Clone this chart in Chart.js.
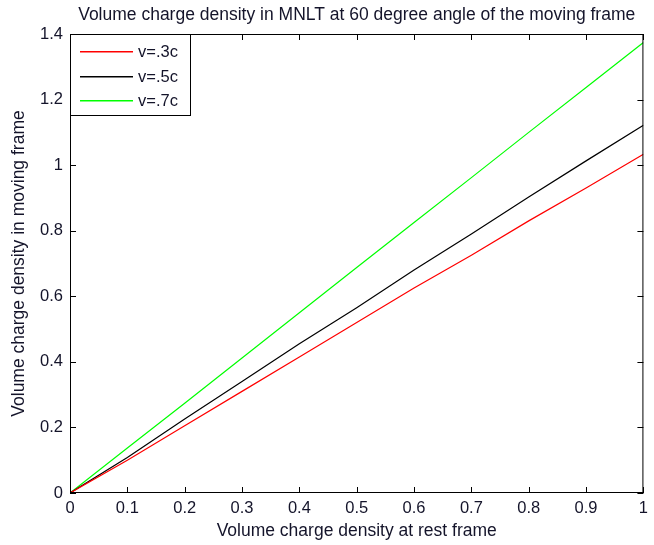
<!DOCTYPE html>
<html>
<head>
<meta charset="utf-8">
<script src="https://cdn.jsdelivr.net/npm/chart.js@4"></script>
<style>
  html, body { margin: 0; padding: 0; background: #fff; }
  #wrap { width: 654px; height: 545px; }
</style>
</head>
<body>
<div id="wrap"><canvas id="chart" width="654" height="545"></canvas></div>
<script>
// data
const restDensity = [0, 0.1, 0.2, 0.3, 0.4, 0.5, 0.6, 0.7, 0.8, 0.9, 1];
const v3c = [0, 0.100, 0.205, 0.310, 0.415, 0.520, 0.625, 0.725, 0.830, 0.930, 1.033];
const v5c = [0, 0.108, 0.226, 0.340, 0.455, 0.565, 0.680, 0.790, 0.903, 1.013, 1.122];
const v7c = [0, 0.137, 0.274, 0.412, 0.550, 0.688, 0.825, 0.962, 1.100, 1.237, 1.374];
const seriesNames = ['v=.3c', 'v=.5c', 'v=.7c'];
const seriesColors = ['#ff0000', '#000000', '#00ff00'];
const xTicks = ['0', '0.1', '0.2', '0.3', '0.4', '0.5', '0.6', '0.7', '0.8', '0.9', '1'];
const yTicks = ['0', '0.2', '0.4', '0.6', '0.8', '1', '1.2', '1.4'];

const chartTitle = 'Volume charge density in MNLT at 60 degree angle of the moving frame';
const FONT = '"Liberation Sans", Arial, sans-serif';
const TEXT = '#14142a';

function toPoints(ys) {
    return ys.map((y, i) => ({ x: restDensity[i], y: y }));
}

// box, inward ticks, title and legend, matlab style
const matlabFrame = {
    id: 'matlabFrame',
    afterDraw(chart) {
        const ctx = chart.ctx;
        const a = chart.chartArea;
        const xs = chart.scales.x;
        const ys = chart.scales.y;
        ctx.save();
        ctx.strokeStyle = '#000';
        ctx.lineWidth = 1;
        ctx.strokeRect(a.left + 0.5, a.top + 0.5, a.right - a.left - 1, a.bottom - a.top - 1);
        ctx.beginPath();
        xs.ticks.forEach(t => {
            const px = Math.round(xs.getPixelForValue(t.value)) + 0.5;
            ctx.moveTo(px, a.bottom); ctx.lineTo(px, a.bottom - 6);
            ctx.moveTo(px, a.top); ctx.lineTo(px, a.top + 6);
        });
        ys.ticks.forEach(t => {
            const py = Math.round(ys.getPixelForValue(t.value)) + 0.5;
            ctx.moveTo(a.left, py); ctx.lineTo(a.left + 6, py);
            ctx.moveTo(a.right, py); ctx.lineTo(a.right - 6, py);
        });
        ctx.stroke();

        // title
        ctx.fillStyle = TEXT;
        ctx.font = '17.5px ' + FONT;
        ctx.textAlign = 'center';
        ctx.textBaseline = 'middle';
        ctx.fillText(chartTitle, (a.left + a.right) / 2, 15);

        // legend box in the upper left corner
        const lx = a.left, ly = a.top, lw = 120, lh = 81;
        ctx.fillStyle = '#fff';
        ctx.fillRect(lx, ly, lw, lh);
        ctx.strokeStyle = '#000';
        ctx.strokeRect(lx + 0.5, ly + 0.5, lw, lh);
        ctx.font = '16.5px ' + FONT;
        chart.data.datasets.forEach((ds, i) => {
            const yy = Math.round(ly + 17 + i * 24.5);
            ctx.fillStyle = seriesColors[i];
            ctx.fillRect(lx + 10, yy, 53, 1.5);
            ctx.fillStyle = TEXT;
            ctx.textAlign = 'left';
            ctx.fillText(ds.label, lx + 68, yy + 1);
        });
        ctx.restore();
    }
};

new Chart(document.getElementById('chart'), {
    type: 'line',
    data: {
        datasets: [v3c, v5c, v7c].map((ys, i) => ({
            label: seriesNames[i],
            data: toPoints(ys),
            borderColor: seriesColors[i],
            borderWidth: 1.2,
            pointRadius: 0,
            tension: 0,
            fill: false
        }))
    },
    options: {
        responsive: false,
        animation: false,
        layout: { padding: { top: 34, right: 2, left: 0, bottom: 0 } },
        plugins: {
            legend: { display: false },
            title: { display: false },
            tooltip: { enabled: false }
        },
        scales: {
            x: {
                type: 'linear',
                min: 0,
                max: 1,
                afterFit: s => { s.height = 52; },
                afterBuildTicks: s => { s.ticks = xTicks.map(v => ({ value: parseFloat(v) })); },
                ticks: {
                    callback: (v, i) => xTicks[i],
                    color: TEXT,
                    font: { family: FONT, size: 16.5 },
                    padding: 6,
                    maxRotation: 0
                },
                grid: { drawOnChartArea: false, drawTicks: false },
                border: { display: false },
                title: {
                    display: true,
                    text: 'Volume charge density at rest frame',
                    color: TEXT,
                    font: { family: FONT, size: 17.5 },
                    padding: { top: 0, bottom: 3 }
                }
            },
            y: {
                type: 'linear',
                min: 0,
                max: 1.4,
                afterFit: s => { s.width = 70; },
                afterBuildTicks: s => { s.ticks = yTicks.map(v => ({ value: parseFloat(v) })); },
                ticks: {
                    callback: (v, i) => yTicks[i],
                    color: TEXT,
                    font: { family: FONT, size: 16.5 },
                    padding: 7
                },
                grid: { drawOnChartArea: false, drawTicks: false },
                border: { display: false },
                title: {
                    display: true,
                    text: 'Volume charge density in moving frame',
                    color: TEXT,
                    font: { family: FONT, size: 17.5 },
                    padding: { top: 9, bottom: 0 }
                }
            }
        }
    },
    plugins: [matlabFrame]
});
</script>
</body>
</html>
